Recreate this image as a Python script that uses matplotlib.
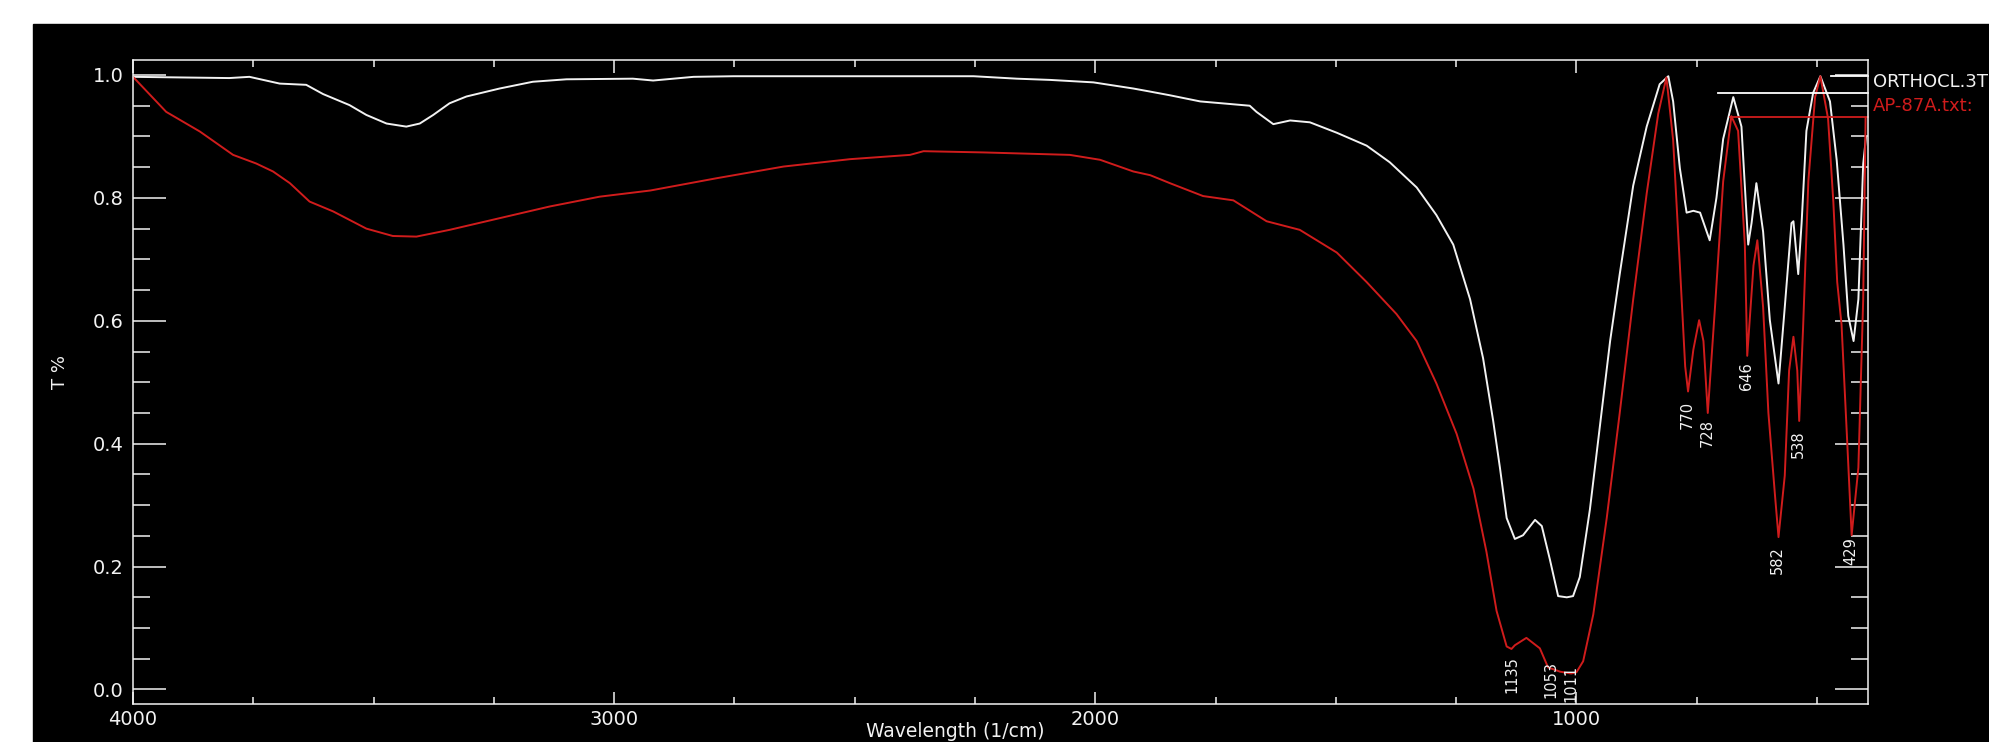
import matplotlib
matplotlib.use("Agg")
import matplotlib.pyplot as plt
import numpy as np
from matplotlib.patches import Rectangle
from matplotlib.ticker import MultipleLocator, FormatStrFormatter

# ORTHOCL.3T reference spectrum (white)
ortho_wn = [4000, 3900, 3800, 3758, 3695, 3640, 3605, 3550, 3515, 3473, 3432, 3404,
            3376, 3342, 3307, 3238, 3169, 3099, 2961, 2919, 2835, 2752, 2500, 2253,
            2163, 2094, 2004, 1921, 1886, 1845, 1782, 1679, 1665, 1630, 1595, 1554,
            1498, 1436, 1388, 1332, 1291, 1256, 1221, 1194, 1173, 1159, 1145, 1128,
            1111, 1086, 1072, 1055, 1038, 1020, 1007, 993, 972, 951, 930, 910, 882,
            854, 827, 809, 799, 785, 771, 757, 743, 723, 709, 695, 674, 657, 643,
            636, 626, 612, 598, 580, 567, 553, 549, 539, 532, 522, 508, 493, 473,
            459, 445, 435, 424, 414, 404, 398]
ortho_t = [0.997, 0.996, 0.995, 0.997, 0.986, 0.984, 0.969, 0.951, 0.935, 0.921, 0.916, 0.921,
           0.935, 0.954, 0.965, 0.978, 0.989, 0.993, 0.994, 0.991, 0.997, 0.998, 0.998, 0.998,
           0.994, 0.992, 0.988, 0.978, 0.973, 0.967, 0.957, 0.950, 0.940, 0.920, 0.926, 0.923,
           0.906, 0.885, 0.858, 0.817, 0.772, 0.724, 0.635, 0.539, 0.437, 0.361, 0.279, 0.245,
           0.251, 0.276, 0.266, 0.211, 0.152, 0.150, 0.152, 0.183, 0.293, 0.430, 0.567, 0.676, 0.820,
           0.916, 0.985, 0.998, 0.957, 0.848, 0.776, 0.779, 0.776, 0.731, 0.800, 0.896, 0.964, 0.916, 0.724,
           0.759, 0.824, 0.745, 0.601, 0.498, 0.622, 0.759, 0.762, 0.676, 0.759, 0.909, 0.971, 0.998, 0.957,
           0.861, 0.724, 0.608, 0.567, 0.635, 0.855, 0.900]

# AP-87A.txt sample spectrum (red)
ap_wn = [4000, 3931, 3861, 3792, 3744, 3709, 3674, 3633, 3584, 3515, 3460, 3411, 3342,
         3238, 3134, 3030, 2925, 2787, 2648, 2510, 2385, 2357, 2233, 2053, 1990, 1921,
         1886, 1845, 1776, 1713, 1644, 1575, 1498, 1436, 1374, 1332, 1291, 1249, 1214,
         1187, 1166, 1145, 1135, 1128, 1104, 1076, 1059, 1034, 1011, 1000, 986, 965, 937,
         910, 882, 854, 830, 813, 799, 785, 774, 768, 757, 745, 736, 727, 712, 695, 678,
         664, 650, 645, 632, 624, 612, 601, 587, 580, 567, 558, 549, 541, 537, 529, 518,
         504, 493, 477, 466, 458, 449, 438, 428, 414, 407, 404, 399]
ap_t = [0.997, 0.940, 0.908, 0.870, 0.856, 0.843, 0.824, 0.794, 0.778, 0.750, 0.738, 0.737, 0.748,
        0.767, 0.786, 0.802, 0.812, 0.832, 0.851, 0.863, 0.870, 0.876, 0.874, 0.870, 0.862, 0.843,
        0.837, 0.824, 0.803, 0.796, 0.762, 0.748, 0.711, 0.663, 0.611, 0.567, 0.498, 0.416, 0.327,
        0.224, 0.128, 0.070, 0.066, 0.072, 0.084, 0.067, 0.036, 0.029, 0.026, 0.028, 0.046, 0.122, 0.279,
        0.450, 0.635, 0.807, 0.937, 0.996, 0.894, 0.690, 0.526, 0.485, 0.553, 0.601, 0.567, 0.450, 0.622, 0.827, 0.933,
        0.909, 0.724, 0.543, 0.690, 0.731, 0.622, 0.450, 0.313, 0.248, 0.348, 0.519, 0.574, 0.519, 0.437, 0.587, 0.827,
        0.964, 0.998, 0.929, 0.793, 0.663, 0.594, 0.416, 0.251, 0.361, 0.553, 0.635, 0.930]

# labelled absorption bands of the sample and the level their labels hang from
peak_wn = [1135, 1053, 1011, 770, 728, 646, 582, 538, 429]
peak_t = [0.062, 0.055, 0.048, 0.478, 0.448, 0.540, 0.241, 0.430, 0.256]

# legend leader lines: start wavenumber and level
lead_x0 = [470, 705, 680]
lead_t = [0.999, 0.971, 0.932]
lead_col = ["white", "white", "#d01c1c"]

RED = "#d01c1c"
FG = "#f2f2f2"
W, H = 1989, 742

plt.rcParams["font.family"] = ["DejaVu Sans"]
fig = plt.figure(figsize=(W / 100, H / 100), dpi=100, facecolor="white")
fig.patches.append(Rectangle((33 / W, 0), 1 - 33 / W, 1 - 24 / H,
                             transform=fig.transFigure, color="black", zorder=-5))

ax = fig.add_axes([133 / W, 38 / H, (1868 - 133) / W, (704 - 60) / H])
ax.set_facecolor("black")

ax.plot(ortho_wn, ortho_t, color=FG, lw=1.4)
ax.plot(ap_wn, ap_t, color=RED, lw=1.4)

xmin, xmax = 4000, 394
for x0, t, c in zip(lead_x0, lead_t, lead_col):
    ax.plot([x0, xmax], [t, t], color=c, lw=1.3, clip_on=False)

for wn, t in zip(peak_wn, peak_t):
    ax.text(wn, t - 0.008, str(wn), rotation=90, ha="center", va="top",
            color=FG, fontsize=10.5)

ax.set_xlim(xmin, xmax)
ax.set_ylim(-0.0236, 1.0244)
ax.xaxis.set_major_locator(MultipleLocator(1000))
ax.xaxis.set_minor_locator(MultipleLocator(250))
ax.yaxis.set_major_locator(MultipleLocator(0.2))
ax.yaxis.set_minor_locator(MultipleLocator(0.05))
ax.yaxis.set_major_formatter(FormatStrFormatter("%.1f"))

for s in ax.spines.values():
    s.set_color(FG)
    s.set_linewidth(1.1)
ax.tick_params(axis="both", which="both", direction="in", colors=FG,
               top=True, right=True, width=1.1, labelsize=14)
ax.tick_params(axis="x", which="major", length=9, pad=4)
ax.tick_params(axis="x", which="minor", length=5)
ax.tick_params(axis="y", which="major", length=24, pad=7)
ax.tick_params(axis="y", which="minor", length=12)

fig.text(60 / W, 1 - 372 / H, "T %", rotation=90, ha="center", va="center",
         color=FG, fontsize=13)
# slightly left of centre so it clears the "2000" tick label
fig.text(955 / W, 1 / H, "Wavelength (1/cm)", ha="center", va="bottom",
         color=FG, fontsize=13.5)
fig.text(1873 / W, 1 - 82 / H, "ORTHOCL.3T", ha="left", va="center",
         color=FG, fontsize=13)
fig.text(1873 / W, 1 - 106 / H, "AP-87A.txt:", ha="left", va="center",
         color=RED, fontsize=13)

fig.savefig("out.png", dpi=100, facecolor=fig.get_facecolor())
